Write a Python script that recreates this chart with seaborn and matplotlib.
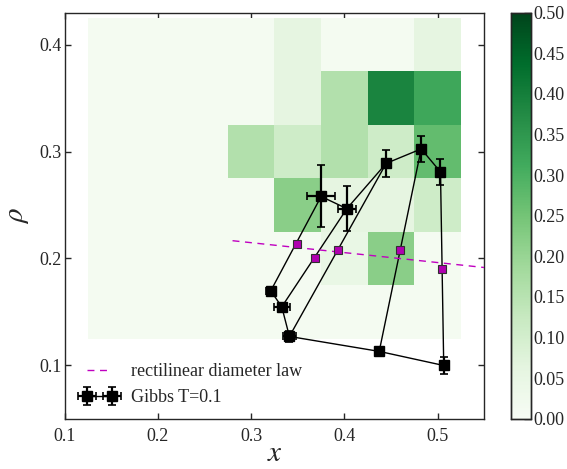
import numpy as np
import pandas as pd
import matplotlib
matplotlib.use("Agg")
import matplotlib.pyplot as plt
import seaborn as sns

# ---------------- data ----------------
x_centers = [0.15, 0.20, 0.25, 0.30, 0.35, 0.40, 0.45, 0.50]
y_centers = [0.40, 0.35, 0.30, 0.25, 0.20, 0.15]
dens_y040 = [0.012, 0.012, 0.012, 0.012, 0.06, 0.012, 0.012, 0.06]
dens_y035 = [0.012, 0.012, 0.012, 0.012, 0.06, 0.16, 0.39, 0.32]
dens_y030 = [0.012, 0.012, 0.012, 0.16, 0.11, 0.16, 0.11, 0.27]
dens_y025 = [0.012, 0.012, 0.012, 0.012, 0.22, 0.06, 0.06, 0.11]
dens_y020 = [0.012, 0.012, 0.012, 0.012, 0.012, 0.05, 0.22, 0.012]
dens_y015 = [0.012, 0.012, 0.012, 0.012, 0.012, 0.012, 0.012, 0.012]

liq_x = [0.375, 0.4026, 0.4448, 0.4823, 0.503]
liq_y = [0.258, 0.2466, 0.289, 0.3025, 0.281]
liq_xerr = [0.015, 0.010, 0.004, 0.004, 0.003]
liq_yerr = [0.029, 0.021, 0.0125, 0.012, 0.012]

vap_x = [0.321, 0.3328, 0.341, 0.4373, 0.5065]
vap_y = [0.1697, 0.1547, 0.127, 0.113, 0.0998]
vap_xerr = [0.005, 0.0085, 0.007, 0.003, 0.002]
vap_yerr = [0.003, 0.004, 0.005, 0.004, 0.0078]

mid_x = [0.3488, 0.368, 0.3927, 0.4598, 0.505]
mid_y = [0.2138, 0.2001, 0.2078, 0.2078, 0.190]

diam_x = [0.28, 0.55]
diam_y = [0.2166, 0.1915]

cbar_ticks = [0.00, 0.05, 0.10, 0.15, 0.20, 0.25, 0.30, 0.35, 0.40, 0.45, 0.50]

# ---------------- style ----------------
sns.set_style("ticks")
plt.rcParams["font.family"] = ["Liberation Serif", "DejaVu Serif"]
plt.rcParams["mathtext.fontset"] = "stix"
plt.rcParams["xtick.direction"] = "in"
plt.rcParams["ytick.direction"] = "in"
plt.rcParams["axes.linewidth"] = 1.0

fig = plt.figure(figsize=(5.67, 4.69), dpi=100)
W, H = 567, 469
ax = fig.add_axes([64.7 / W, 1 - 418.7 / H, (484.3 - 64.7) / W, (418.7 - 12.7) / H])
cax = fig.add_axes([510.5 / W, 1 - 418.7 / H, 20.5 / W, (418.7 - 12.7) / H])

# heatmap via seaborn 2D weighted histogram
rows = [dens_y040, dens_y035, dens_y030, dens_y025, dens_y020, dens_y015]
recs = []
for yc, row in zip(y_centers, rows):
    for xc, v in zip(x_centers, row):
        recs.append((xc, yc, v))
df = pd.DataFrame(recs, columns=["x", "rho", "w"])
sns.histplot(data=df, x="x", y="rho", weights="w", binwidth=0.05,
             binrange=((0.125, 0.525), (0.125, 0.425)), cmap="Greens",
             vmin=0.0, vmax=0.5, cbar=True, cbar_ax=cax,
             cbar_kws={"ticks": cbar_ticks}, ax=ax)

# tie lines
for lx, ly, vx, vy in zip(liq_x, liq_y, vap_x, vap_y):
    ax.plot([lx, vx], [ly, vy], color="black", lw=1.0, zorder=3)

# rectilinear diameter law
ax.plot(diam_x, diam_y, linestyle="--", color="#c000c0", lw=1.0,
        dashes=(5, 4), label="rectilinear diameter law", zorder=3)

# midpoints
ax.plot(mid_x, mid_y, linestyle="none", marker="s", markersize=5.5,
        markerfacecolor="#b000b0", markeredgecolor="#303030",
        markeredgewidth=0.8, zorder=4)

# Gibbs points
ekw = dict(fmt="s-", color="black", markersize=7, lw=1.0, elinewidth=1.6,
           capsize=3, capthick=1.2, zorder=5)
ax.errorbar(liq_x, liq_y, xerr=liq_xerr, yerr=liq_yerr, label="Gibbs T=0.1", **ekw)
ax.errorbar(vap_x, vap_y, xerr=vap_xerr, yerr=vap_yerr, **ekw)

ax.set_xlim(0.1, 0.55)
ax.set_ylim(0.05, 0.43)
ax.set_xticks([0.1, 0.2, 0.3, 0.4, 0.5])
ax.set_yticks([0.1, 0.2, 0.3, 0.4])
ax.tick_params(axis="both", which="major", direction="in", length=4,
               width=1, labelsize=13, top=True, right=True)
ax.tick_params(axis="x", pad=7)
ax.tick_params(axis="y", pad=2)
for s in ax.spines.values():
    s.set_visible(True)
    s.set_linewidth(1.0)
ax.set_xlabel(r"$x$", fontsize=21, labelpad=-3)
ax.set_ylabel(r"$\rho$", fontsize=21, labelpad=6)

leg = ax.legend(loc="lower left", bbox_to_anchor=(0.009, 0.0), frameon=False,
                numpoints=2, fontsize=13, handlelength=2.0, handletextpad=0.75,
                borderaxespad=0.3, labelspacing=0.5)

cax.tick_params(direction="in", length=5, width=1, labelsize=13, right=True, left=False, pad=2)
cax.yaxis.set_major_formatter(matplotlib.ticker.FormatStrFormatter("%.2f"))
for s in cax.spines.values():
    s.set_visible(True)
    s.set_linewidth(1.0)

fig.savefig("out.png", dpi=100)
